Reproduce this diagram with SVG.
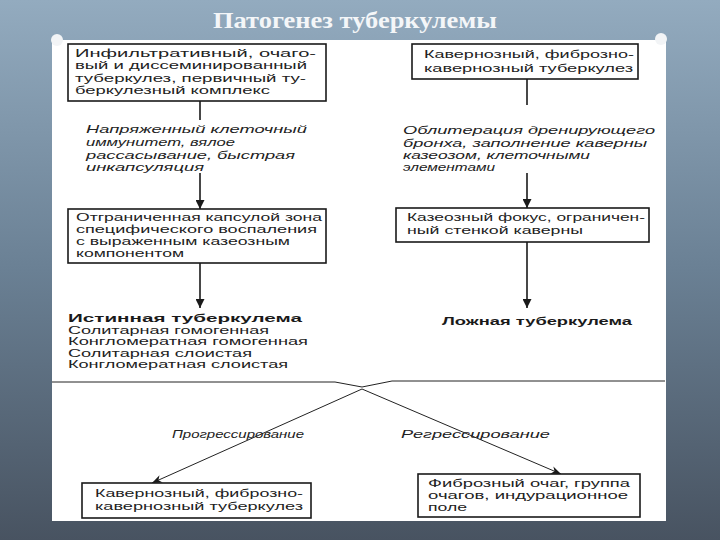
<svg xmlns="http://www.w3.org/2000/svg" width="720" height="540" viewBox="0 0 720 540">
<defs>
<linearGradient id="bg" x1="0" y1="0" x2="0" y2="1">
<stop offset="0" stop-color="#93abbf"/>
<stop offset="0.5" stop-color="#6a8094"/>
<stop offset="1" stop-color="#485361"/>
</linearGradient>
<marker id="ah" viewBox="0 0 10 10" refX="10" refY="5" markerWidth="9" markerHeight="9" markerUnits="userSpaceOnUse" orient="auto">
<path d="M0,0 L10,5 L0,10 Z" fill="#1a1a1a"/>
</marker>
<marker id="ah2" viewBox="0 0 10 10" refX="10" refY="5" markerWidth="12" markerHeight="10" markerUnits="userSpaceOnUse" orient="auto">
<path d="M0,1 L10,5 L0,9 L3,5 Z" fill="#1a1a1a"/>
</marker>
</defs>
<style>
.box{fill:#fff;stroke:#1a1a1a;stroke-width:1.6}
.t{font-family:"Liberation Sans",Arial,sans-serif;font-size:11.5px;fill:#222}
.i{font-family:"Liberation Sans",Arial,sans-serif;font-size:11.5px;font-style:italic;fill:#222}
.b{font-family:"Liberation Sans",Arial,sans-serif;font-size:11.5px;font-weight:bold;fill:#1a1a1a}
.ln{stroke:#1a1a1a;stroke-width:1.6;fill:none}
.thin{stroke:#222;stroke-width:1;fill:none}
.title{font-family:"Liberation Serif","Times New Roman",serif;font-size:23px;font-weight:bold;fill:#f4f6f8}
</style>
<rect x="0" y="0" width="720" height="540" fill="url(#bg)"/>
<text class="title" x="213" y="28" textLength="284" lengthAdjust="spacingAndGlyphs">Патогенез туберкулемы</text>
<rect x="52" y="40" width="614" height="481" fill="#fff"/>
<circle cx="57" cy="40" r="6" fill="#f2f4f6"/>
<circle cx="661" cy="39" r="6" fill="#f2f4f6"/>

<g id="connectors">
<line class="ln" x1="200" y1="101" x2="200" y2="120"/>
<line class="ln" x1="200" y1="173" x2="200" y2="209" marker-end="url(#ah)"/>
<line class="ln" x1="527" y1="79" x2="527" y2="105"/>
<line class="ln" x1="527" y1="173" x2="527" y2="208" marker-end="url(#ah)"/>
<line class="ln" x1="200" y1="263" x2="200" y2="308" marker-end="url(#ah)"/>
<line class="ln" x1="527" y1="242" x2="527" y2="308" marker-end="url(#ah)"/>
<polyline class="thin" points="52,382 335,382 362,387 392,381 665,381"/>
<line class="thin" x1="362" y1="389" x2="152" y2="483" marker-end="url(#ah2)"/>
<line class="thin" x1="362" y1="389" x2="561" y2="474" marker-end="url(#ah2)"/>
</g>

<g id="node-infiltr">
<rect class="box" x="68" y="44" width="258" height="57"/>
<text class="t" x="75" y="57" textLength="241" lengthAdjust="spacingAndGlyphs">Инфильтративный, очаго-</text>
<text class="t" x="75" y="69" textLength="232" lengthAdjust="spacingAndGlyphs">вый и диссеминированный</text>
<text class="t" x="75" y="82" textLength="231" lengthAdjust="spacingAndGlyphs">туберкулез, первичный ту-</text>
<text class="t" x="75" y="94" textLength="195" lengthAdjust="spacingAndGlyphs">беркулезный комплекс</text>
</g>

<g id="node-kavern-top">
<rect class="box" x="412" y="44" width="226" height="35"/>
<text class="t" x="424" y="58" textLength="210" lengthAdjust="spacingAndGlyphs">Кавернозный, фиброзно-</text>
<text class="t" x="424" y="72" textLength="209" lengthAdjust="spacingAndGlyphs">кавернозный туберкулез</text>
</g>

<g id="label-immun">
<text class="i" x="86" y="133" textLength="221" lengthAdjust="spacingAndGlyphs">Напряженный клеточный</text>
<text class="i" x="86" y="146" textLength="149" lengthAdjust="spacingAndGlyphs">иммунитет, вялое</text>
<text class="i" x="86" y="159" textLength="209" lengthAdjust="spacingAndGlyphs">рассасывание, быстрая</text>
<text class="i" x="86" y="171" textLength="118" lengthAdjust="spacingAndGlyphs">инкапсуляция</text>
</g>

<g id="label-oblit">
<text class="i" x="403" y="134" textLength="252" lengthAdjust="spacingAndGlyphs">Облитерация дренирующего</text>
<text class="i" x="403" y="147" textLength="244" lengthAdjust="spacingAndGlyphs">бронха, заполнение каверны</text>
<text class="i" x="403" y="159" textLength="187" lengthAdjust="spacingAndGlyphs">казеозом, клеточными</text>
<text class="i" x="403" y="171" textLength="92" lengthAdjust="spacingAndGlyphs">элементами</text>
</g>

<g id="node-capsule">
<rect class="box" x="68" y="209" width="258" height="54"/>
<text class="t" x="76" y="221" textLength="246" lengthAdjust="spacingAndGlyphs">Отграниченная капсулой зона</text>
<text class="t" x="76" y="233" textLength="241" lengthAdjust="spacingAndGlyphs">специфического воспаления</text>
<text class="t" x="76" y="245" textLength="214" lengthAdjust="spacingAndGlyphs">с выраженным казеозным</text>
<text class="t" x="76" y="257" textLength="108" lengthAdjust="spacingAndGlyphs">компонентом</text>
</g>

<g id="node-focus">
<rect class="box" x="396" y="208" width="253" height="34"/>
<text class="t" x="407" y="221" textLength="238" lengthAdjust="spacingAndGlyphs">Казеозный фокус, ограничен-</text>
<text class="t" x="407" y="234" textLength="176" lengthAdjust="spacingAndGlyphs">ный стенкой каверны</text>
</g>

<g id="node-true">
<text class="b" x="68" y="322" textLength="234" lengthAdjust="spacingAndGlyphs">Истинная туберкулема</text>
<text class="t" x="68" y="333.5" textLength="201" lengthAdjust="spacingAndGlyphs">Солитарная гомогенная</text>
<text class="t" x="68" y="345" textLength="240" lengthAdjust="spacingAndGlyphs">Конгломератная гомогенная</text>
<text class="t" x="68" y="356.5" textLength="184" lengthAdjust="spacingAndGlyphs">Солитарная слоистая</text>
<text class="t" x="68" y="368" textLength="220" lengthAdjust="spacingAndGlyphs">Конгломератная слоистая</text>
</g>

<g id="node-false">
<text class="b" x="442" y="325" textLength="190" lengthAdjust="spacingAndGlyphs">Ложная туберкулема</text>
</g>

<g id="label-progress">
<text class="i" x="172" y="438" textLength="132" lengthAdjust="spacingAndGlyphs">Прогрессирование</text>
</g>
<g id="label-regress">
<text class="i" x="401" y="438" textLength="149" lengthAdjust="spacingAndGlyphs">Регрессирование</text>
</g>

<g id="node-kavern-bottom">
<rect class="box" x="82" y="483" width="229" height="35"/>
<text class="t" x="95" y="497" textLength="208" lengthAdjust="spacingAndGlyphs">Кавернозный, фиброзно-</text>
<text class="t" x="95" y="510" textLength="208" lengthAdjust="spacingAndGlyphs">кавернозный туберкулез</text>
</g>

<g id="node-fibrous">
<rect class="box" x="418" y="474" width="222" height="43"/>
<text class="t" x="428" y="487" textLength="202" lengthAdjust="spacingAndGlyphs">Фиброзный очаг, группа</text>
<text class="t" x="428" y="499" textLength="200" lengthAdjust="spacingAndGlyphs">очагов, индурационное</text>
<text class="t" x="428" y="511" textLength="39" lengthAdjust="spacingAndGlyphs">поле</text>
</g>
</svg>
